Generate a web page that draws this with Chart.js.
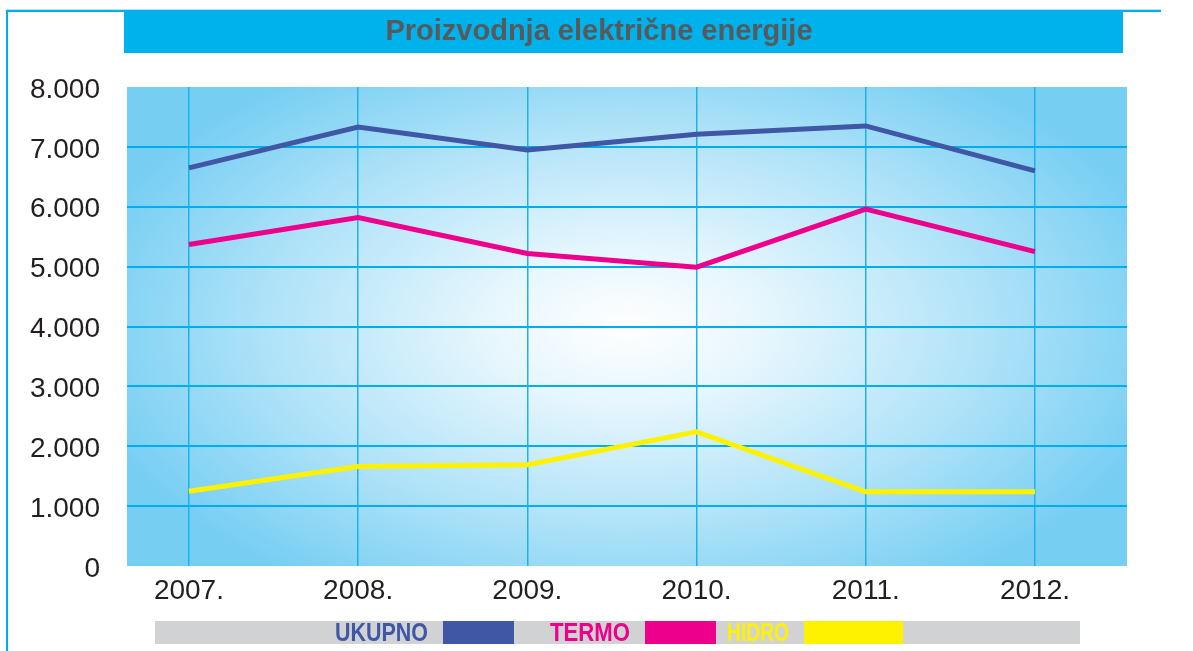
<!DOCTYPE html>
<html>
<head>
<meta charset="utf-8">
<script src="https://cdn.jsdelivr.net/npm/chart.js@4"></script>
<style>
  body { margin: 0; background: #fff; }
  #wrap { width: 1193px; height: 651px; }
</style>
</head>
<body>
<div id="wrap"><canvas id="myChart" width="1193" height="651"></canvas></div>
<script>
const years = [2007, 2008, 2009, 2010, 2011, 2012];
const ukupno = [6650, 7330, 6950, 7210, 7350, 6600];
const termo = [5370, 5820, 5220, 4990, 5960, 5250];
const hidro = [1250, 1660, 1690, 2240, 1240, 1240];
const seriesNames = ['UKUPNO', 'TERMO', 'HIDRO'];
const yTicks = [0, 1000, 2000, 3000, 4000, 5000, 6000, 7000, 8000];
const title = 'Proizvodnja električne energije';

const colors = ['#3f57a5', '#ec008c', '#fff200'];

function toPoints(values) {
    return values.map((v, i) => ({ x: years[i], y: v }));
}

const decor = {
    id: 'decor',
    beforeDraw(chart) {
        const ctx = chart.ctx;
        const a = chart.chartArea;
        // outer frame
        ctx.save();
        ctx.fillStyle = '#00aeef';
        ctx.fillRect(6, 10, 2, 641);
        ctx.fillRect(6, 10, 1155, 2);
        ctx.fillStyle = '#b8e6f8';
        ctx.fillRect(6, 9, 1155, 1);
        // title bar
        ctx.fillStyle = '#00b2ec';
        ctx.fillRect(124, 12, 999, 41);
        ctx.fillStyle = '#58595b';
        ctx.font = 'bold 29px "Liberation Sans", Arial, sans-serif';
        ctx.textAlign = 'center';
        ctx.textBaseline = 'middle';
        ctx.fillText(title, 599, 32);
        // plot background
        const w = a.right - a.left, h = a.bottom - a.top;
        const cx = a.left + w * 0.5, cy = a.top + h * 0.5;
        ctx.beginPath();
        ctx.rect(a.left, a.top, w, h);
        ctx.clip();
        ctx.translate(cx, cy);
        ctx.scale(1, h / w * 1.15);
        const g = ctx.createRadialGradient(0, 0, 0, 0, 0, w * 0.56);
        g.addColorStop(0, '#ffffff');
        g.addColorStop(0.25, '#e6f6fd');
        g.addColorStop(0.65, '#aee2f8');
        g.addColorStop(1, '#76cef3');
        ctx.fillStyle = g;
        ctx.fillRect(-w, -w, 2 * w, 2 * w);
        ctx.restore();
    },
    afterDraw(chart) {
        const ctx = chart.ctx;
        ctx.save();
        ctx.fillStyle = '#d1d2d4';
        ctx.fillRect(155, 621, 925, 23);
        ctx.font = 'bold 25px "Liberation Sans Narrow", "Liberation Sans", Arial, sans-serif';
        ctx.textBaseline = 'middle';
        ctx.textAlign = 'right';
        const swatchX = [443, 645, 804];
        const swatchW = [71, 71, 99];
        const textW = [93, 80, 62];
        chart.data.datasets.forEach((ds, i) => {
            ctx.fillStyle = ds.borderColor;
            const right = swatchX[i] - 15;
            const mw = ctx.measureText(ds.label).width;
            ctx.save();
            ctx.translate(right, 634);
            ctx.scale(Math.min(1, textW[i] / mw), 1);
            ctx.fillText(ds.label, 0, 0);
            ctx.restore();
            ctx.fillRect(swatchX[i], 621, swatchW[i], 23);
        });
        ctx.restore();
    }
};

const data = {
    datasets: [
        { label: seriesNames[0], data: toPoints(ukupno), borderColor: colors[0] },
        { label: seriesNames[1], data: toPoints(termo), borderColor: colors[1] },
        { label: seriesNames[2], data: toPoints(hidro), borderColor: colors[2] }
    ]
};

const tickFont = { family: '"Liberation Sans", Arial, sans-serif', size: 28 };

const config = {
    type: 'line',
    data: data,
    options: {
        responsive: false,
        animation: false,
        layout: { padding: { top: 87, right: 66, bottom: 0, left: 0 } },
        elements: {
            line: { borderWidth: 5, tension: 0, fill: false, borderCapStyle: 'butt' },
            point: { radius: 0 }
        },
        plugins: {
            legend: { display: false },
            title: { display: false },
            tooltip: { enabled: false }
        },
        scales: {
            x: {
                type: 'linear',
                min: 2006.634,
                max: 2012.544,
                afterBuildTicks: (scale) => { scale.ticks = years.map(v => ({ value: v })); },
                afterFit: (scale) => { scale.height = 85; },
                border: { display: false },
                grid: { color: '#1fb2ea', lineWidth: 1.5, drawTicks: false },
                ticks: {
                    padding: 8,
                    color: '#231f20',
                    font: tickFont,
                    maxRotation: 0,
                    callback: (v) => v + '.'
                }
            },
            y: {
                min: 0,
                max: 8000,
                afterBuildTicks: (scale) => { scale.ticks = yTicks.map(v => ({ value: v })); },
                afterFit: (scale) => { scale.width = 127; },
                border: { display: false },
                grid: {
                    drawTicks: false,
                    lineWidth: 2,
                    color: (c) => (c.tick && (c.tick.value === 0 || c.tick.value === 8000)) ? 'rgba(0,0,0,0)' : '#00aeef'
                },
                ticks: {
                    padding: 27,
                    labelOffset: 3,
                    color: '#231f20',
                    font: tickFont,
                    callback: (v) => v === 0 ? '0' : (v / 1000) + '.000'
                }
            }
        }
    },
    plugins: [decor]
};

const myChart = new Chart(document.getElementById('myChart'), config);
</script>
</body>
</html>
